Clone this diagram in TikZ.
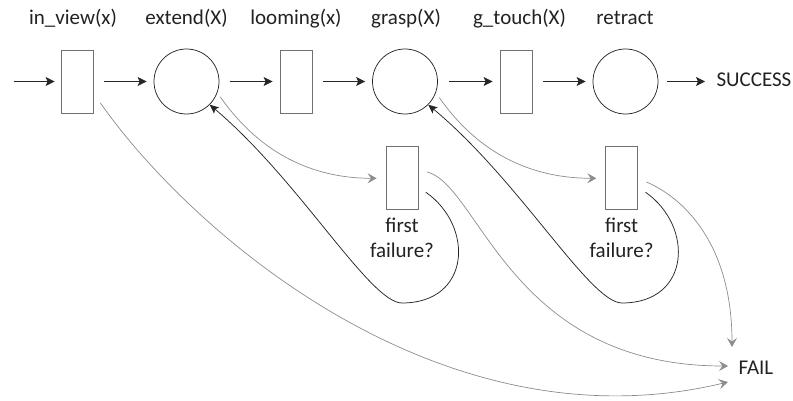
\documentclass[tikz,border=0pt]{standalone}
\usepackage{fontspec}
\setmainfont{Carlito}
\usetikzlibrary{arrows.meta,calc}
\definecolor{boxgray}{HTML}{707070}
\definecolor{darkline}{HTML}{262626}
\definecolor{graycol}{HTML}{8C8C8C}
\definecolor{textcol}{HTML}{222222}
\begin{document}
\begin{tikzpicture}[x=1pt,y=1pt,
  box/.style={draw=boxgray,line width=0.8pt,minimum width=32pt,minimum height=63pt,inner sep=0pt},
  place/.style={circle,draw=darkline,line width=0.75pt,minimum size=65pt,inner sep=0pt},
  lbl/.style={anchor=base,text=textcol,font=\fontsize{21}{25}\selectfont},
  flow/.style={draw=darkline,line width=0.8pt,-{Stealth[length=9pt,width=9pt,inset=2pt]},shorten <=11pt,shorten >=7pt},
  failarrow/.style={draw=graycol,line width=0.7pt,-{Stealth[length=9pt,width=10pt,inset=3.5pt]}},
  backarrow/.style={draw=darkline,line width=0.75pt,-{Stealth[length=9pt,width=8pt,inset=2pt]}}
]
\useasboundingbox (0,0) rectangle (793,401);

% main row
\node[box]   (r1) at (77,319.5) {};
\node[place] (c1) at (186.5,319.5) {};
\node[box]   (r2) at (296,319.5) {};
\node[place] (c2) at (405,319.5) {};
\node[box]   (r3) at (516,319.5) {};
\node[place] (c3) at (625.5,319.5) {};

% failure checks
\node[box] (f1) at (402,222.7) {};
\node[box] (f2) at (621.7,222.7) {};

% labels
\node[lbl] (l1) at (73,376) {in\_view(x)};
\node[lbl] (l2) at (186.5,376) {extend(X)};
\node[lbl] (l3) at (296,376) {looming(x)};
\node[lbl] (l4) at (406,376) {grasp(X)};
\node[lbl] (l5) at (519.5,376) {g\_touch(X)};
\node[lbl] (l6) at (625,376) {retract};
\node[lbl] (q1a) at (402,168) {first};
\node[lbl] (q1b) at (402,143) {failure?};
\node[lbl] (q2a) at (621.7,168) {first};
\node[lbl] (q2b) at (621.7,143) {failure?};
\node[lbl,anchor=base west] (succ) at (713,314) {SUCCESS};
\node[lbl,anchor=base west] (fail) at (735,26) {FAIL};

% coordinates
\coordinate (start) at (14,319.5);
\coordinate (b1) at (402,98);
\coordinate (b2) at (622,98);
\coordinate (failhi) at (732,54);
\coordinate (failmid) at (728,35);
\coordinate (failfar) at (728,19);

% main flow
\draw[flow,shorten <=0pt,shorten >=6pt] (start) -- (r1);
\draw[flow] (r1) -- (c1);
\draw[flow] (c1) -- (r2);
\draw[flow] (r2) -- (c2);
\draw[flow] (c2) -- (r3);
\draw[flow] (r3) -- (c3);
\draw[flow,shorten <=9pt,shorten >=8pt] (c3) -- (c3 -| succ.west);

% to failure checks
\draw[failarrow,shorten <=5pt,shorten >=9pt] (c1.-20) to[out=-55,in=180] (f1.west);
\draw[failarrow,shorten <=6pt,shorten >=9pt] (c2.-20) to[out=-55,in=180] (f2.west);

% retry loops
\draw[backarrow,shorten <=9pt] (f1.-28) to[out=-35,in=0,looseness=1.5] (b1) .. controls (370,98) and (300,220) .. (c1.-45);
\draw[backarrow,shorten <=9pt] (f2.-28) to[out=-35,in=0,looseness=1.5] (b2) .. controls (590,98) and (520,220) .. (c2.-45);

% to FAIL
\draw[failarrow,shorten <=12pt] (r1.-35) .. controls (190,170) and (440,-50) .. (failfar);
\draw[failarrow,shorten <=9pt] (f1.28) .. controls (480,215) and (510,35) .. (failmid);
\draw[failarrow,shorten <=9pt] (f2.east) .. controls (690,200) and (732,150) .. (failhi);
\end{tikzpicture}
\end{document}
